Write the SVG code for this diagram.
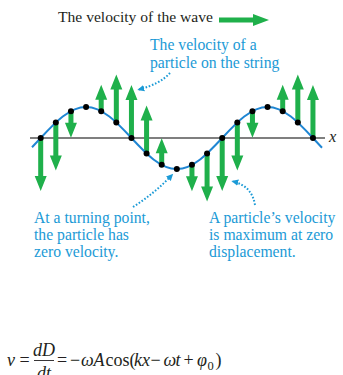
<svg xmlns="http://www.w3.org/2000/svg" xmlns:xlink="http://www.w3.org/1999/xlink" width="343" height="375" viewBox="0 0 343 375">
<style>
.ser{font-family:"Liberation Serif","Times New Roman",serif;}
.title{font-size:15.6px;fill:#231f20;}
.lbl{font-size:15.7px;fill:#1b9ad6;}
.math{font-size:18px;fill:#231f20;}
.it{font-style:italic;}
.call{fill:none;stroke:#1b9ad6;stroke-width:2;stroke-dasharray:1.6 1.8;}
.vel{fill:#1fb04b;}
.dot{fill:#000;}
</style>
<defs>
<marker id="ah" viewBox="0 0 8 8" refX="6" refY="4" markerWidth="7" markerHeight="7" markerUnits="userSpaceOnUse" orient="auto">
<path d="M0,0.3 L8,4 L0,7.7 z" fill="#1b9ad6"/>
</marker>
<path id="a53" d="M-2.5,0 V38 H-6 L0,53 L6,38 H2.5 V0 Z"/>
<path id="a48" d="M-2.5,0 V33 H-6 L0,48 L6,33 H2.5 V0 Z"/>
<path id="a26" d="M-2.5,0 V11.5 H-6 L0,26.5 L6,11.5 H2.5 V0 Z"/>
</defs>

<g id="wave-velocity">
<text class="ser title" x="58" y="22">The velocity of the wave</text>
<path class="vel" d="M219,17.5 H253 V14 L269,20 L253,26 V22.5 H219 Z"/>
</g>

<g id="axis">
<line x1="30" y1="138" x2="325" y2="138" stroke="#555" stroke-width="1.3"/>
<text class="ser it" x="329" y="142" font-size="16.5" fill="#231f20">x</text>
</g>

<g id="velocity-arrows" class="vel">
<use xlink:href="#a53" transform="translate(40.7,138)"/>
<use xlink:href="#a48" transform="translate(55.83,122.5)"/>
<use xlink:href="#a26" transform="translate(70.95,111.15)"/>
<use xlink:href="#a26" transform="translate(101.2,111.15) scale(1,-1)"/>
<use xlink:href="#a48" transform="translate(116.33,122.5) scale(1,-1)"/>
<use xlink:href="#a53" transform="translate(131.45,138) scale(1,-1)"/>
<use xlink:href="#a48" transform="translate(146.58,153.5) scale(1,-1)"/>
<use xlink:href="#a26" transform="translate(161.7,164.85) scale(1,-1)"/>
<use xlink:href="#a26" transform="translate(191.95,164.85)"/>
<use xlink:href="#a48" transform="translate(207.08,153.5)"/>
<use xlink:href="#a53" transform="translate(222.2,138)"/>
<use xlink:href="#a48" transform="translate(237.33,122.5)"/>
<use xlink:href="#a26" transform="translate(252.45,111.15)"/>
<use xlink:href="#a26" transform="translate(282.7,111.15) scale(1,-1)"/>
<use xlink:href="#a48" transform="translate(297.83,122.5) scale(1,-1)"/>
<use xlink:href="#a53" transform="translate(312.95,138) scale(1,-1)"/>
</g>

<g id="string">
<path fill="none" stroke="#1f86d3" stroke-width="2" d="M32,147.3 L40.7,138 C55.5,122.12 69.65,107 86.075,107 C102.5,107 116.65,122.12 131.45,138 C146.25,153.88 160.4,169 176.825,169 C193.25,169 207.4,153.88 222.2,138 C237,122.12 251.15,107 267.575,107 C284,107 298.15,122.12 312.95,138 L322,147.7"/>
</g>

<g id="particles" class="dot">
<circle cx="40.7" cy="138" r="3"/>
<circle cx="55.83" cy="122.5" r="3"/>
<circle cx="70.95" cy="111.15" r="3"/>
<circle cx="86.08" cy="107" r="3"/>
<circle cx="101.2" cy="111.15" r="3"/>
<circle cx="116.33" cy="122.5" r="3"/>
<circle cx="131.45" cy="138" r="3"/>
<circle cx="146.58" cy="153.5" r="3"/>
<circle cx="161.7" cy="164.85" r="3"/>
<circle cx="176.83" cy="169" r="3"/>
<circle cx="191.95" cy="164.85" r="3"/>
<circle cx="207.08" cy="153.5" r="3"/>
<circle cx="222.2" cy="138" r="3"/>
<circle cx="237.33" cy="122.5" r="3"/>
<circle cx="252.45" cy="111.15" r="3"/>
<circle cx="267.58" cy="107" r="3"/>
<circle cx="282.7" cy="111.15" r="3"/>
<circle cx="297.83" cy="122.5" r="3"/>
<circle cx="312.95" cy="138" r="3"/>
</g>

<g id="connectors">
<path class="call" marker-end="url(#ah)" d="M170,73 Q160,84 139,89.5"/>
<path class="call" marker-end="url(#ah)" d="M133,207 Q155,193 172,175"/>
<path class="call" marker-end="url(#ah)" d="M255,205 Q252,186 233,181.5"/>
</g>

<g id="label-particle-velocity">
<text class="ser lbl" x="150" y="50">The velocity of a</text>
<text class="ser lbl" x="150" y="68">particle on the string</text>
</g>

<g id="label-turning-point">
<text class="ser lbl" x="34" y="223">At a turning point,</text>
<text class="ser lbl" x="34" y="240">the particle has</text>
<text class="ser lbl" x="34" y="257">zero velocity.</text>
</g>

<g id="label-max-velocity">
<text class="ser lbl" x="209" y="223">A particle’s velocity</text>
<text class="ser lbl" x="209" y="240">is maximum at zero</text>
<text class="ser lbl" x="209" y="257">displacement.</text>
</g>

<g id="formula" class="ser math">
<text x="7" y="366" class="it">v</text>
<text x="19.5" y="366">=</text>
<text x="44" y="355.5" text-anchor="middle" class="it">dD</text>
<line x1="34" y1="360.5" x2="54" y2="360.5" stroke="#231f20" stroke-width="0.9"/>
<text x="44" y="378.5" text-anchor="middle" class="it">dt</text>
<text x="57" y="366">=</text>
<text x="70" y="366">−</text>
<text x="81" y="366" class="it">ω</text>
<text x="93.5" y="366" class="it">A</text>
<text x="105.5" y="366">cos(</text>
<text x="134" y="366" class="it">kx</text>
<text x="150.5" y="366">−</text>
<text x="163.5" y="366" class="it">ω</text>
<text x="175.5" y="366" class="it">t</text>
<text x="183.5" y="366">+</text>
<text x="197" y="366" class="it">φ</text>
<text x="207.5" y="370" font-size="12.5">0</text>
<text x="215.5" y="366">)</text>
</g>
</svg>
